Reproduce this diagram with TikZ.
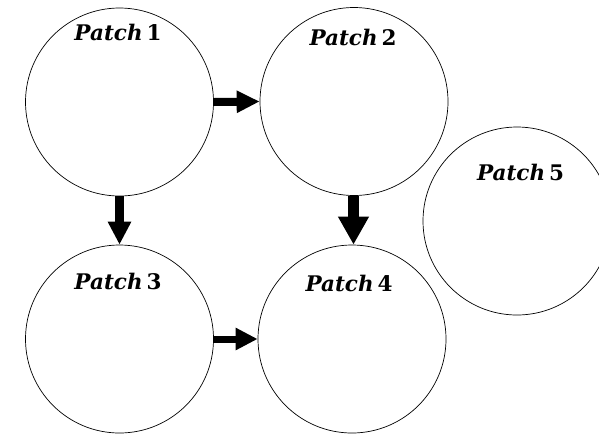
\documentclass[tikz,border=0pt]{standalone}
\usepackage{fontspec}
\newfontfamily\lblfont{DejaVu Serif}
\usetikzlibrary{arrows.meta}
\tikzset{
  patch/.style={circle, draw, line width=0.7pt, minimum size=188pt, inner sep=0pt},
  lbl/.style={anchor=base, inner sep=0pt, font=\lblfont\bfseries\fontsize{21.5}{25}\selectfont},
  flow/.style={line width=8pt, -{Triangle[length=23pt,width=21pt]}},
}
\newcommand{\patchlabel}[1]{{\itshape Patch}\kern0.18em#1}
\begin{document}
\begin{tikzpicture}[x=1pt,y=-1pt]
\useasboundingbox (0,0) rectangle (599,437);
\node[patch] (p1) at (119.5,102) {};
\node[patch] (p2) at (354,101.5) {};
\node[patch] (p3) at (119.5,339) {};
\node[patch] (p4) at (352,339) {};
\node[patch] (p5) at (517,221) {};
\node[lbl] (l1) at (118,40) {\patchlabel{1}};
\node[lbl] (l2) at (353,45.5) {\patchlabel{2}};
\node[lbl] (l3) at (118,289) {\patchlabel{3}};
\node[lbl] (l4) at (349,291.5) {\patchlabel{4}};
\node[lbl] (l5) at (520.5,180) {\patchlabel{5}};
\draw[flow] (p1.east) -- (p2.west);
\draw[flow, line width=9pt, -{Triangle[length=23pt,width=22pt]}] (p1.south) -- (p3.north);
\draw[flow, line width=10.5pt, -{Triangle[length=28pt,width=29pt]}] ([xshift=-0.5pt]p2.south) -- ([xshift=-0.5pt]p2.south |- p4.north);
\draw[flow, line width=7pt, -{Triangle[length=22pt,width=21pt]}] (p3.east) -- (p4.west);
\end{tikzpicture}
\end{document}
